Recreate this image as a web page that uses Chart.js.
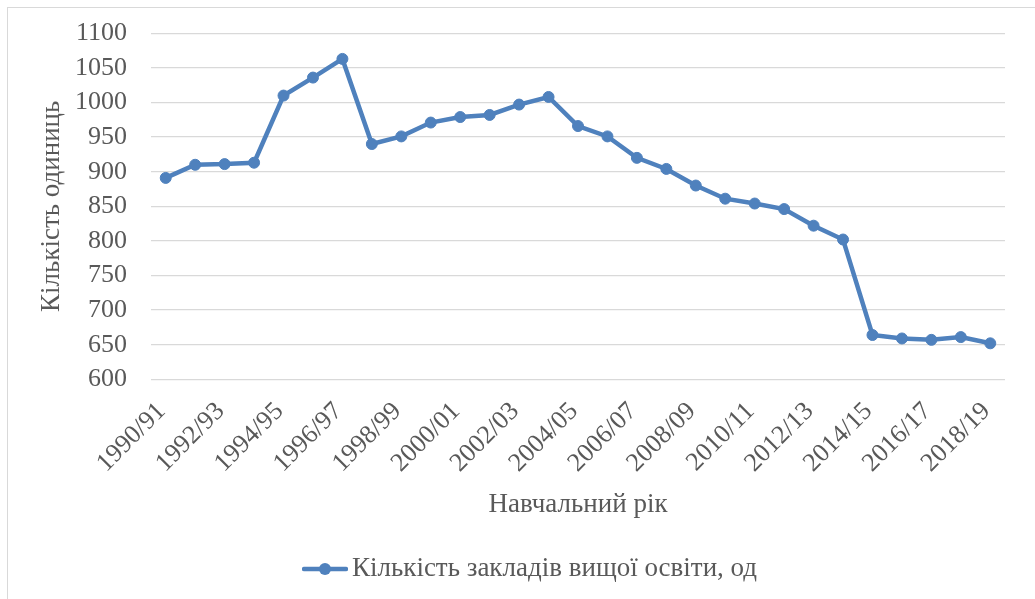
<!DOCTYPE html>
<html>
<head>
<meta charset="utf-8">
<script src="https://cdn.jsdelivr.net/npm/chart.js@4.4.1/dist/chart.umd.min.js"></script>
<style>
  html, body { margin: 0; padding: 0; background: #ffffff; overflow: hidden; }
  #wrap { position: relative; width: 1035px; height: 599px; }
  #frame { position: absolute; left: 7px; top: 7px; width: 1100px; height: 700px; border: 1px solid #d9d9d9; box-sizing: border-box; }
  canvas { position: absolute; left: 0; top: 0; }
</style>
</head>
<body>
<div id="wrap">
  <div id="frame"></div>
  <canvas id="c" width="1035" height="599"></canvas>
</div>
<script>
const categories = ['1990/91','1991/92','1992/93','1993/94','1994/95','1995/96','1996/97','1997/98','1998/99','1999/00',
  '2000/01','2001/02','2002/03','2003/04','2004/05','2005/06','2006/07','2007/08','2008/09','2009/10',
  '2010/11','2011/12','2012/13','2013/14','2014/15','2015/16','2016/17','2017/18','2018/19'];
const institutions = [891, 910, 911, 913, 1010, 1036, 1063, 940, 951, 971,
  979, 982, 997, 1008, 966, 951, 920, 904, 880, 861,
  854, 846, 822, 802, 664, 659, 657, 661, 652];
const seriesName = 'Кількість закладів вищої освіти, од';
const xTitle = 'Навчальний рік';
const yTitle = 'Кількість одиниць';
const yMin = 600, yMax = 1100, yStep = 50;

const lineColor = '#4F81BD';
const textColor = '#595959';
const fontFamily = "'Liberation Serif', 'Times New Roman', serif";

// legend symbol: line with marker
const sym = document.createElement('canvas');
sym.width = 46; sym.height = 14;
(function () {
  const g = sym.getContext('2d');
  g.strokeStyle = lineColor; g.lineWidth = 4.5; g.lineCap = 'round';
  g.beginPath(); g.moveTo(2, 7); g.lineTo(44, 7); g.stroke();
  g.fillStyle = lineColor;
  g.beginPath(); g.arc(23, 7, 6, 0, Math.PI * 2); g.fill();
})();

new Chart(document.getElementById('c'), {
  type: 'line',
  data: {
    labels: categories,
    datasets: [{
      label: seriesName,
      data: institutions,
      borderColor: lineColor,
      backgroundColor: lineColor,
      borderWidth: 4.5,
      pointRadius: 5.5,
      pointBorderWidth: 1,
      pointBackgroundColor: lineColor,
      pointBorderColor: lineColor,
      tension: 0,
      fill: false
    }]
  },
  options: {
    responsive: false,
    animation: false,
    layout: { padding: { left: 63.5, right: 30, top: 33.3, bottom: 6.5 } },
    plugins: {
      tooltip: { enabled: false },
      legend: {
        position: 'bottom',
        labels: {
          usePointStyle: true,
          pointStyle: sym,
          pointStyleWidth: 27,
          padding: 10,
          color: textColor,
          font: { family: fontFamily, size: 27 }
        }
      }
    },
    scales: {
      x: {
        offset: true,
        grid: { display: false, drawTicks: false },
        border: { display: false },
        ticks: {
          autoSkip: false,
          minRotation: 45,
          maxRotation: 45,
          padding: 17,
          labelOffset: -4,
          color: textColor,
          font: { family: fontFamily, size: 26 },
          callback: function (value, index) { return index % 2 === 0 ? this.getLabelForValue(value) : ''; }
        },
        title: {
          display: true,
          text: xTitle,
          color: textColor,
          font: { family: fontFamily, size: 27 },
          padding: { top: 0, bottom: 24.3 }
        },
        afterFit: function (s) { s.height = 166.2; }
      },
      y: {
        min: yMin,
        max: yMax,
        grid: { color: '#d9d9d9', lineWidth: 1.3, drawTicks: true, tickLength: 21, tickColor: 'rgba(0,0,0,0)' },
        border: { display: false },
        ticks: {
          stepSize: yStep,
          autoSkip: false,
          padding: 3,
          color: textColor,
          font: { family: fontFamily, size: 26 },
          callback: function (value) { return String(value); }
        },
        title: {
          display: true,
          text: yTitle,
          color: textColor,
          font: { family: fontFamily, size: 27 },
          padding: { top: -27.7, bottom: 0 }
        },
        afterFit: function (s) { s.width = 87.5; }
      }
    }
  }
});
</script>
</body>
</html>
